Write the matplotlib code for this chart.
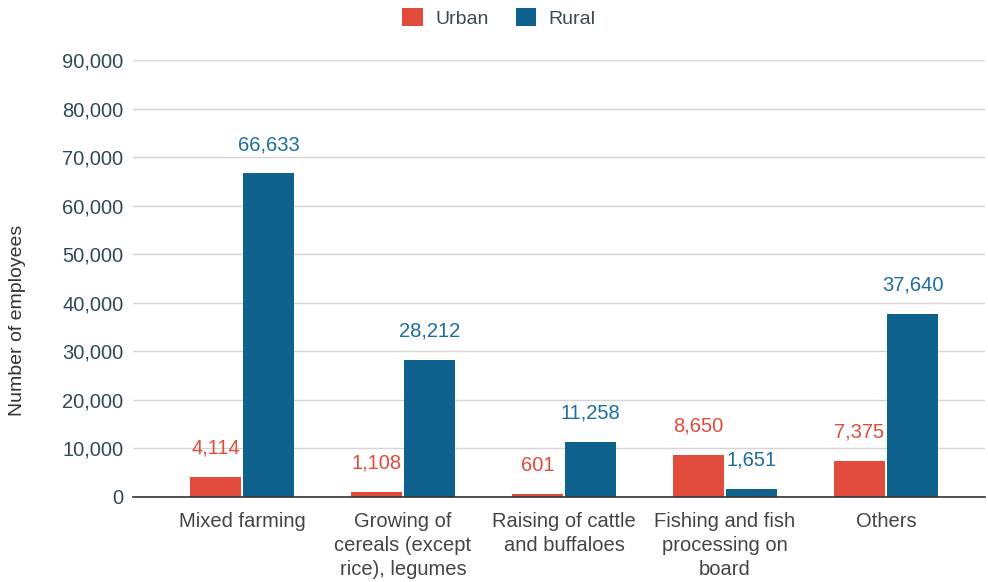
import matplotlib
matplotlib.use("Agg")
import matplotlib.pyplot as plt
import numpy as np

categories = ["Mixed farming", "Growing of\ncereals (except\nrice), legumes",
              "Raising of cattle\nand buffaloes", "Fishing and fish\nprocessing on\nboard", "Others"]
urban = [4114, 1108, 601, 8650, 7375]
rural = [66633, 28212, 11258, 1651, 37640]
yticks = [0, 10000, 20000, 30000, 40000, 50000, 60000, 70000, 80000, 90000]

c_urban = "#E04B3C"
c_rural = "#10628E"
c_rural_lbl = "#1D6C9E"

plt.rcParams['font.family'] = ['Liberation Sans', 'DejaVu Sans']
fig = plt.figure(figsize=(9.88, 5.82), dpi=100)
ax = fig.add_axes([133/988, 85/582, (985-133)/988, (497-60)/582])

x = np.arange(len(categories))
w = 0.315
gap = 0.007
ax.bar(x - w/2 - gap, urban, w, color=c_urban, label="Urban", zorder=3)
ax.bar(x + w/2 + gap, rural, w, color=c_rural, label="Rural", zorder=3)

for xi, v in zip(x - w/2 - gap, urban):
    ax.annotate(f"{v:,}", (xi, v), xytext=(0, 14), textcoords="offset points",
                ha="center", va="bottom", color=c_urban, fontsize=14.5, zorder=4)
for xi, v in zip(x + w/2 + gap, rural):
    ax.annotate(f"{v:,}", (xi, v), xytext=(0, 14), textcoords="offset points",
                ha="center", va="bottom", color=c_rural_lbl, fontsize=14.5, zorder=4)

ax.set_ylim(0, 90000)
ax.set_xlim((133-242)/161, (985-242)/161)
ax.set_yticks(yticks)
ax.set_yticklabels([f"{t:,}" for t in yticks], color="#2E4A5A", fontsize=14.5)
ax.set_xticks(x)
ax.set_xticklabels(categories, color="#444444", fontsize=14.5, linespacing=1.36)
ax.tick_params(axis='y', length=0, pad=7)
ax.tick_params(axis='x', length=0, pad=10.5)
ax.grid(axis='y', color="#D5D5D5", linewidth=1, zorder=0)
for s in ["top", "right", "left"]:
    ax.spines[s].set_visible(False)
ax.spines["bottom"].set_color("#333333")
ax.spines["bottom"].set_linewidth(1.2)
ax.spines["bottom"].set_zorder(5)
fig.text(18/988, 1 - 320/582, "Number of employees", rotation=90, ha="center", va="center",
         color="#333333", fontsize=14)

leg = fig.legend(loc="upper center", bbox_to_anchor=(0.505, 1.016), ncol=2, frameon=False,
                 fontsize=14, handlelength=1.05, handleheight=1.05, columnspacing=1.4,
                 handletextpad=0.65)
for t in leg.get_texts():
    t.set_color("#3A4A55")

fig.savefig("out.png", dpi=100)
